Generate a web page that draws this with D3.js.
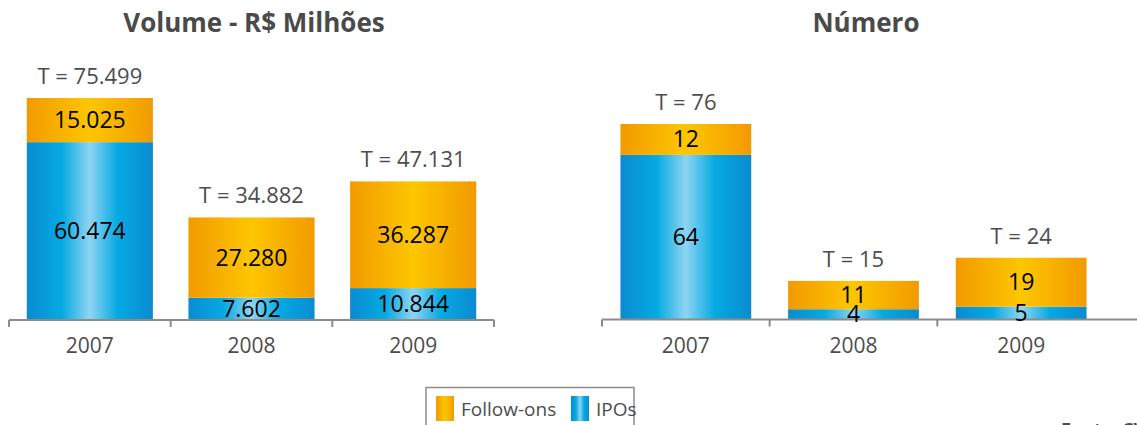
<!DOCTYPE html>
<html lang="pt">
<head>
<meta charset="UTF-8">
<title>Volume e Número</title>
<style>
  body { margin: 0; background: #fff; }
  text { font-family: "Open Sans", "Noto Sans", sans-serif; }
</style>
</head>
<body>
<div id="chart"></div>
<script src="https://d3js.org/d3.v7.min.js"></script>
<script>
// dados
var anos = ["2007", "2008", "2009"];
var volumeIPO = [60474, 7602, 10844];
var volumeFollow = [15025, 27280, 36287];
var numeroIPO = [64, 4, 5];
var numeroFollow = [12, 11, 19];
var titulos = ["Volume - R$ Milhões", "Número"];
var legendaNomes = ["Follow-ons", "IPOs"];
var fonteTexto = "Fonte: CVM";

var width = 1137, height = 425;
var br = d3.formatLocale({decimal: ",", thousands: ".", grouping: [3], currency: ["R$", ""]});
var fmt = br.format(",d");

var svg = d3.select("#chart").append("svg")
  .attr("width", width)
  .attr("height", height);

// gradientes horizontais das barras
var defs = svg.append("defs");
function gradiente(id, stops) {
  var g = defs.append("linearGradient").attr("id", id)
    .attr("x1", "0%").attr("x2", "100%").attr("y1", "0%").attr("y2", "0%");
  stops.forEach(function(s) {
    g.append("stop").attr("offset", s[0]).attr("stop-color", s[1]);
  });
}
gradiente("gradAzul", [["0%", "#0a8bd0"], ["28%", "#05aae2"], ["50%", "#8ed4f2"], ["72%", "#05aae2"], ["100%", "#0a8bd0"]]);
gradiente("gradLaranja", [["0%", "#f29a00"], ["50%", "#fdc600"], ["100%", "#f29a00"]]);

// um painel por métrica
var paineis = [
  {titulo: titulos[0], ipo: volumeIPO, fol: volumeFollow, x0: 9, x1: 494, axisEnd: 494, baseY: 320, topY: 98, tituloX: 254},
  {titulo: titulos[1], ipo: numeroIPO, fol: numeroFollow, x0: 602, x1: 1105, axisEnd: 1137, baseY: 319.5, topY: 124, tituloX: 866}
];

paineis.forEach(function(p) {
  var totais = p.ipo.map(function(v, i) { return v + p.fol[i]; });

  var x = d3.scaleBand()
    .domain(anos)
    .range([p.x0, p.x1])
    .paddingInner(0.22)
    .paddingOuter(0.11);

  var y = d3.scaleLinear()
    .domain([0, d3.max(totais)])
    .range([p.baseY, p.topY]);

  var g = svg.append("g");

  g.append("text")
    .attr("x", p.tituloX)
    .attr("y", 32)
    .attr("text-anchor", "middle")
    .style("font-size", "26px")
    .style("font-weight", "bold")
    .style("fill", "#4a4a4a")
    .text(p.titulo);

  // IPOs
  g.selectAll(".ipo").data(anos).enter().append("rect")
    .attr("x", function(d) { return x(d); })
    .attr("width", x.bandwidth())
    .attr("y", function(d, i) { return y(p.ipo[i]); })
    .attr("height", function(d, i) { return y(0) - y(p.ipo[i]); })
    .attr("fill", "url(#gradAzul)");

  // Follow-ons
  g.selectAll(".fol").data(anos).enter().append("rect")
    .attr("x", function(d) { return x(d); })
    .attr("width", x.bandwidth())
    .attr("y", function(d, i) { return y(totais[i]); })
    .attr("height", function(d, i) { return y(p.ipo[i]) - y(totais[i]); })
    .attr("fill", "url(#gradLaranja)");

  // eixo
  g.append("line")
    .attr("x1", p.x0).attr("x2", p.axisEnd)
    .attr("y1", p.baseY).attr("y2", p.baseY)
    .attr("stroke", "#8c8c8c").attr("stroke-width", 2);
  var ticks = anos.map(function(d) { return x(d) - x.step() * x.paddingInner() / 2; });
  if (p.axisEnd === p.x1) ticks.push(p.x1);
  g.selectAll(".tick").data(ticks).enter().append("line")
    .attr("x1", function(d) { return d; }).attr("x2", function(d) { return d; })
    .attr("y1", p.baseY).attr("y2", p.baseY + 7)
    .attr("stroke", "#8c8c8c").attr("stroke-width", 2);

  g.selectAll(".ano").data(anos).enter().append("text")
    .attr("x", function(d) { return x(d) + x.bandwidth() / 2; })
    .attr("y", 353)
    .attr("text-anchor", "middle")
    .style("font-size", "21px")
    .style("fill", "#4d4d4d")
    .text(function(d) { return d; });

  // rótulos de valores
  g.selectAll(".lipo").data(anos).enter().append("text")
    .attr("x", function(d) { return x(d) + x.bandwidth() / 2; })
    .attr("y", function(d, i) { return (y(0) + y(p.ipo[i])) / 2 + 8; })
    .attr("text-anchor", "middle")
    .style("font-size", "23px")
    .style("fill", "#000")
    .text(function(d, i) { return fmt(p.ipo[i]); });

  g.selectAll(".lfol").data(anos).enter().append("text")
    .attr("x", function(d) { return x(d) + x.bandwidth() / 2; })
    .attr("y", function(d, i) { return (y(p.ipo[i]) + y(totais[i])) / 2 + 8; })
    .attr("text-anchor", "middle")
    .style("font-size", "23px")
    .style("fill", "#000")
    .text(function(d, i) { return fmt(p.fol[i]); });

  g.selectAll(".ltot").data(anos).enter().append("text")
    .attr("x", function(d) { return x(d) + x.bandwidth() / 2; })
    .attr("y", function(d, i) { return y(totais[i]) - 14; })
    .attr("text-anchor", "middle")
    .style("font-size", "22px")
    .style("fill", "#4d4d4d")
    .text(function(d, i) { return "T = " + fmt(totais[i]); });
});

// legenda
var leg = svg.append("g");
leg.append("rect")
  .attr("x", 426).attr("y", 387.5)
  .attr("width", 208).attr("height", 48)
  .attr("fill", "#fff").attr("stroke", "#8c8c8c").attr("stroke-width", 1.5);
var legX = [436, 571];
var legFill = ["url(#gradLaranja)", "url(#gradAzul)"];
legendaNomes.forEach(function(nome, i) {
  leg.append("rect")
    .attr("x", legX[i]).attr("y", 396)
    .attr("width", 18).attr("height", 25)
    .attr("fill", legFill[i]);
  leg.append("text")
    .attr("x", legX[i] + 25).attr("y", 416)
    .style("font-size", "19px")
    .style("fill", "#4d4d4d")
    .text(nome);
});

svg.append("text")
  .attr("x", 1061).attr("y", 436)
  .style("font-size", "18px")
  .style("font-weight", "bold")
  .style("fill", "#4d4d4d")
  .text(fonteTexto);
</script>
</body>
</html>
